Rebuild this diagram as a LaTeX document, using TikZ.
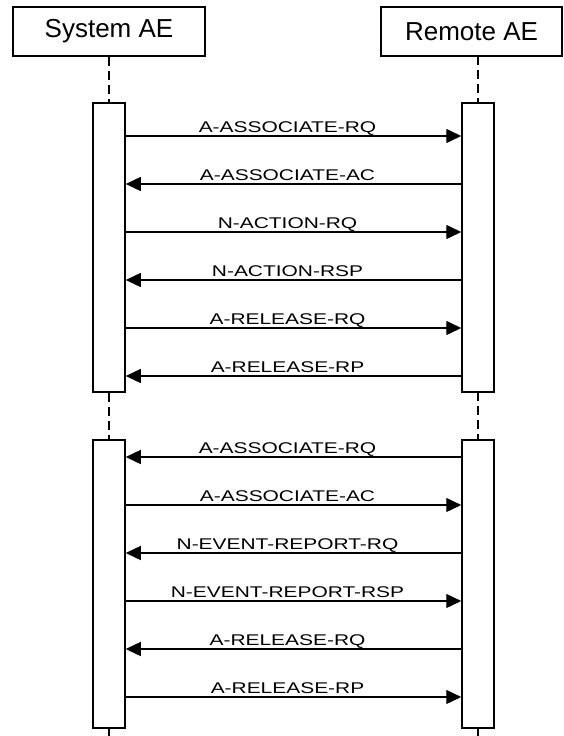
\documentclass[tikz,border=0pt]{standalone}
\usepackage{fontspec}
\setmainfont{Liberation Sans}
\newfontfamily\msgfont[FakeStretch=1.35]{Liberation Sans}
\usetikzlibrary{arrows.meta}
\tikzset{
  head/.style={draw, line width=1.5pt, minimum height=49pt, inner sep=0pt,
    font=\fontsize{26}{27}\selectfont},
  bar/.style={draw, fill=white, line width=1.5pt, minimum width=32pt, inner sep=0pt},
  life/.style={line width=2pt, dash pattern=on 9pt off 5pt},
  msg/.style={line width=1.4pt, -{Triangle[length=15pt,width=14pt]}},
  msglab/.style={anchor=base, xshift=-6pt, yshift=4pt,
    font=\msgfont\fontsize{15.5}{16}\selectfont}
}
\begin{document}
\begin{tikzpicture}[x=1pt,y=-1pt]
\def\sx{109}   % system lifeline
\def\rx{478}   % remote lifeline
\useasboundingbox (0,0) rectangle (564,736);
% entity heads
\node[head, minimum width=192pt] (sys) at (\sx,31.5) {\raisebox{-2pt}{System AE}};
\node[head, minimum width=181pt] (rem) at (471.5,31.5) {\raisebox{-2pt}{Remote AE}};
% lifelines
\coordinate (systail) at (\sx,736);
\coordinate (remtop) at (\rx,56);
\coordinate (remtail) at (\rx,736);
\draw[life] (sys) -- (systail);
\draw[life] (remtop) -- (remtail);
% activation bars, one pair per association
\foreach \n/\top/\bot in {1/103/392, 2/440/728} {
  \pgfmathsetmacro{\mid}{(\top+\bot)/2}
  \pgfmathsetmacro{\len}{\bot-\top}
  \node[bar, minimum height=\len pt] (s\n) at (\sx,\mid) {};
  \node[bar, minimum height=\len pt] (r\n) at (\rx,\mid) {};
}
% messages: y / from / to / label
\foreach \y/\a/\b/\lab in {
  136/s1.east/r1.west/A-ASSOCIATE-RQ,
  184/r1.west/s1.east/A-ASSOCIATE-AC,
  232/s1.east/r1.west/N-ACTION-RQ,
  280/r1.west/s1.east/N-ACTION-RSP,
  328/s1.east/r1.west/A-RELEASE-RQ,
  376/r1.west/s1.east/A-RELEASE-RP,
  457/r2.west/s2.east/A-ASSOCIATE-RQ,
  505/s2.east/r2.west/A-ASSOCIATE-AC,
  553/r2.west/s2.east/N-EVENT-REPORT-RQ,
  601/s2.east/r2.west/N-EVENT-REPORT-RSP,
  649/r2.west/s2.east/A-RELEASE-RQ,
  697/s2.east/r2.west/A-RELEASE-RP} {
  \draw[msg] (\a |- 0,\y) -- (\b |- 0,\y) node[msglab, midway] {\lab};
}
\end{tikzpicture}
\end{document}
